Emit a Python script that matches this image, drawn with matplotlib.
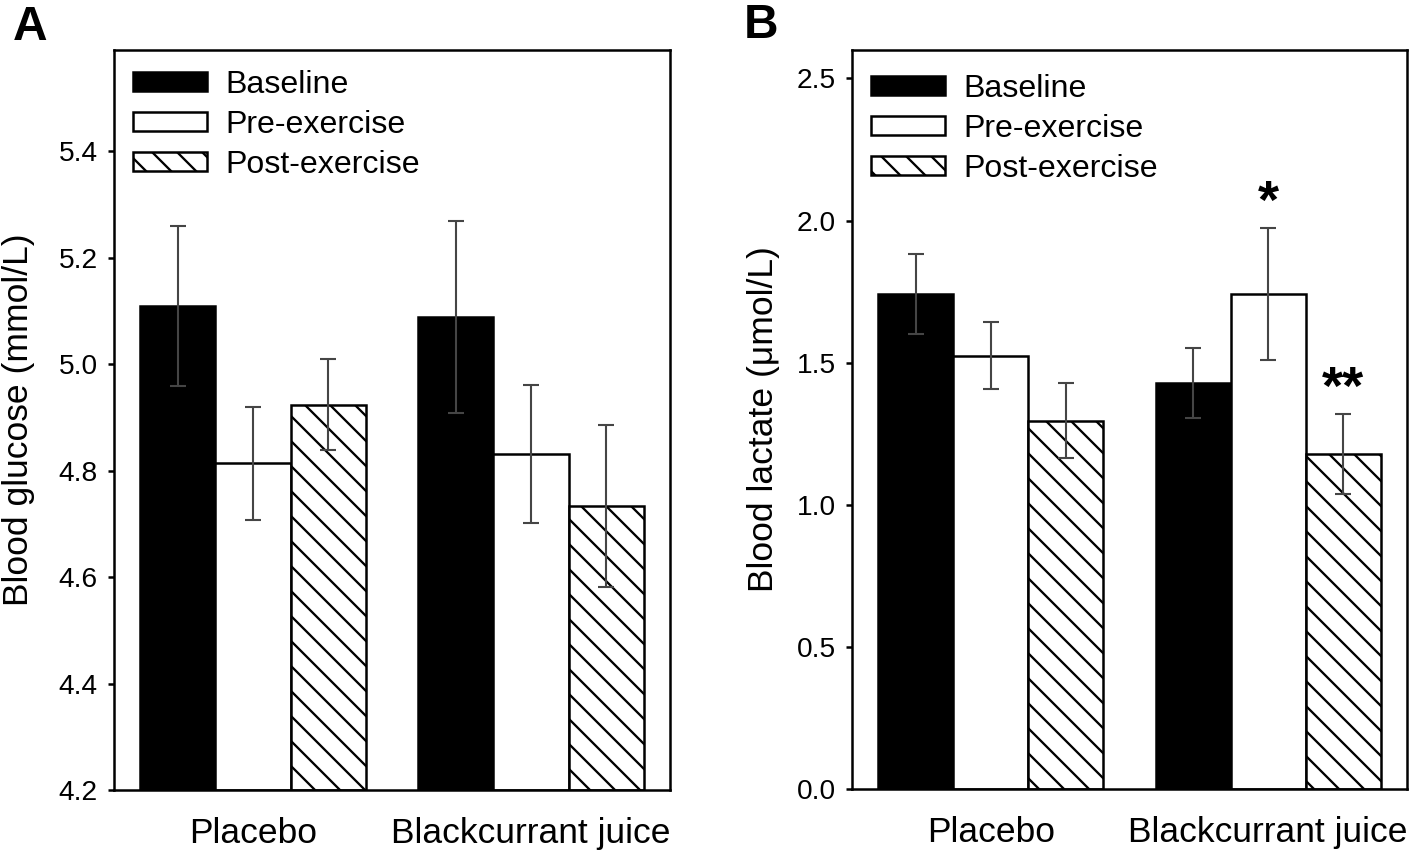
import matplotlib.pyplot as plt
import numpy as np

# group labels and series
groups = ["Placebo", "Blackcurrant juice"]
series = ["Baseline", "Pre-exercise", "Post-exercise"]

# Panel A: blood glucose (mmol/L), mean and error
glucose_baseline = [5.109, 5.088]
glucose_pre = [4.814, 4.831]
glucose_post = [4.924, 4.733]
glucose_baseline_err = [0.150, 0.180]
glucose_pre_err = [0.106, 0.130]
glucose_post_err = [0.085, 0.152]

# Panel B: blood lactate (umol/L), mean and error
lactate_baseline = [1.741, 1.429]
lactate_pre = [1.525, 1.741]
lactate_post = [1.296, 1.179]
lactate_baseline_err = [0.141, 0.124]
lactate_pre_err = [0.119, 0.232]
lactate_post_err = [0.131, 0.140]

# significance marks on panel B: (label, group index, series index)
lactate_marks = [("*", 1, 1), ("**", 1, 2)]

plt.rcParams["font.family"] = ["Liberation Sans", "DejaVu Sans"]
plt.rcParams["hatch.linewidth"] = 1.1
plt.rcParams["hatch.color"] = "black"

DPI = 150
fig = plt.figure(figsize=(1418 / DPI, 850 / DPI), dpi=DPI)
ax_a = fig.add_axes([114 / 1418, 60 / 850, 556 / 1418, 740 / 850])
ax_b = fig.add_axes([852 / 1418, 61 / 850, 555 / 1418, 739 / 850])

width = 0.27
x = np.arange(len(groups))
styles = [
    dict(color="black", edgecolor="black"),
    dict(color="white", edgecolor="black"),
    dict(color="white", edgecolor="black", hatch="\\\\"),
]


def draw_panel(ax, means, errs, ylim, yticks, ylabel, legend_y):
    for i, (m, e, st, name) in enumerate(zip(means, errs, styles, series)):
        xs = x + (i - 1) * width
        ax.bar(xs, np.array(m) - ylim[0], width, bottom=ylim[0], linewidth=1.2,
               label=name, zorder=2, **st)
        ax.errorbar(xs, m, yerr=e, fmt="none", ecolor="#454545", elinewidth=1.0,
                    capsize=3.8, capthick=1.0, zorder=3)
    ax.set_xlim(-0.5, 1.5)
    ax.set_ylim(*ylim)
    ax.set_yticks(yticks)
    ax.set_yticklabels([f"{v:.1f}" for v in yticks])
    ax.set_xticks(x)
    ax.set_xticklabels(groups, fontsize=17)
    ax.tick_params(axis="x", length=0, pad=13)
    ax.tick_params(axis="y", direction="out", length=2.9, width=1.2,
                   labelsize=13.5, pad=5)
    for sp in ax.spines.values():
        sp.set_linewidth(1.2)
    ax.set_ylabel(ylabel, fontsize=17)
    ax.legend(loc="upper left", bbox_to_anchor=(0.035, legend_y),
              frameon=False, fontsize=15.4, handlelength=2.3,
              handleheight=0.53, handletextpad=0.56, labelspacing=0.31,
              borderpad=0, borderaxespad=0)


draw_panel(ax_a, [glucose_baseline, glucose_pre, glucose_post],
           [glucose_baseline_err, glucose_pre_err, glucose_post_err],
           (4.2, 5.59), np.arange(4.2, 5.41, 0.2), "Blood glucose (mmol/L)", 0.973)
ax_a.yaxis.set_label_coords(-0.142, 0.5)

draw_panel(ax_b, [lactate_baseline, lactate_pre, lactate_post],
           [lactate_baseline_err, lactate_pre_err, lactate_post_err],
           (0.0, 2.6), np.arange(0.0, 2.51, 0.5), "Blood lactate (\u03bcmol/L)", 0.968)
ax_b.yaxis.set_label_coords(-0.13, 0.5)

lact_means = [lactate_baseline, lactate_pre, lactate_post]
lact_errs = [lactate_baseline_err, lactate_pre_err, lactate_post_err]
for label, g, s in lactate_marks:
    top = lact_means[s][g] + lact_errs[s][g]
    ax_b.text(x[g] + (s - 1) * width, top + 0.085, label, ha="center", va="center",
              fontsize=26, fontweight="bold")

fig.text(13 / 1418, 1 - 5 / 850, "A", fontsize=23, fontweight="bold", va="top", ha="left")
fig.text(744 / 1418, 1 - 3 / 850, "B", fontsize=23, fontweight="bold", va="top", ha="left")

fig.savefig("out.png", dpi=DPI)
